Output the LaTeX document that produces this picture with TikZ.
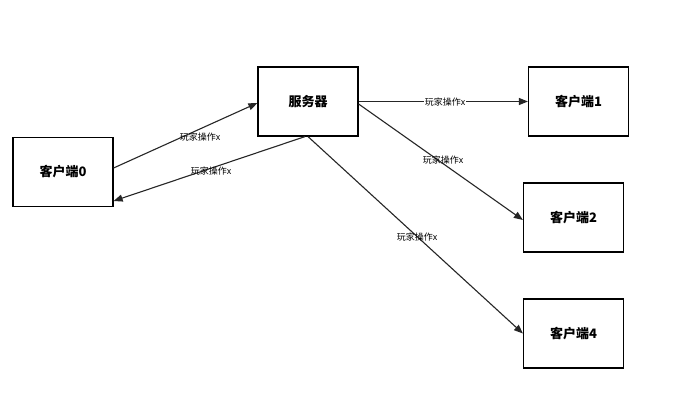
\documentclass[tikz,border=0pt]{standalone}
\usepackage{fontspec}
\newfontfamily\cjk{Noto Sans CJK SC}
\usetikzlibrary{arrows.meta}
\begin{document}
\begin{tikzpicture}[x=1pt,y=-1pt,
  box/.style={draw,line width=1.2pt,minimum width=100pt,minimum height=69pt,inner sep=0pt,font=\cjk\bfseries\fontsize{13}{15}\selectfont},
  arr/.style={draw=black!85,line width=1.1pt,-{Triangle[length=9pt,width=7pt]}},
  lab/.style={font=\cjk\fontsize{9}{11}\selectfont,fill=white,inner sep=1pt}]
\useasboundingbox (0,0) rectangle (677,403);
\fill[white] (0,0) rectangle (677,403);
\node[box] (c0) at (63,172) {客户端0};
\node[box] (s) at (308,101.5) {服务器};
\node[box] (c1) at (578.5,101.5) {客户端1};
\node[box] (c2) at (573.5,217.5) {客户端2};
\node[box] (c4) at (573.5,333.5) {客户端4};
\draw[arr] ([yshift=4pt]c0.east) -- ([yshift=-1.5pt]s.west);
\draw[arr] ([xshift=-3pt]s.south) -- ([yshift=-29pt]c0.east);
\draw[arr] (s.east) -- (c1.west);
\draw[arr] ([yshift=-2.5pt]s.east) -- ([yshift=-2.5pt]c2.west);
\draw[arr] (s.south) -- (c4.west);
\node[lab,fill=none] (l1) at (200,137) {玩家操作x};
\node[lab,fill=none] (l2) at (211,171) {玩家操作x};
\node[lab] (l3) at (445,102) {玩家操作x};
\node[lab,fill=none] (l4) at (443,160) {玩家操作x};
\node[lab,fill=none] (l5) at (417,237) {玩家操作x};
\end{tikzpicture}
\end{document}
